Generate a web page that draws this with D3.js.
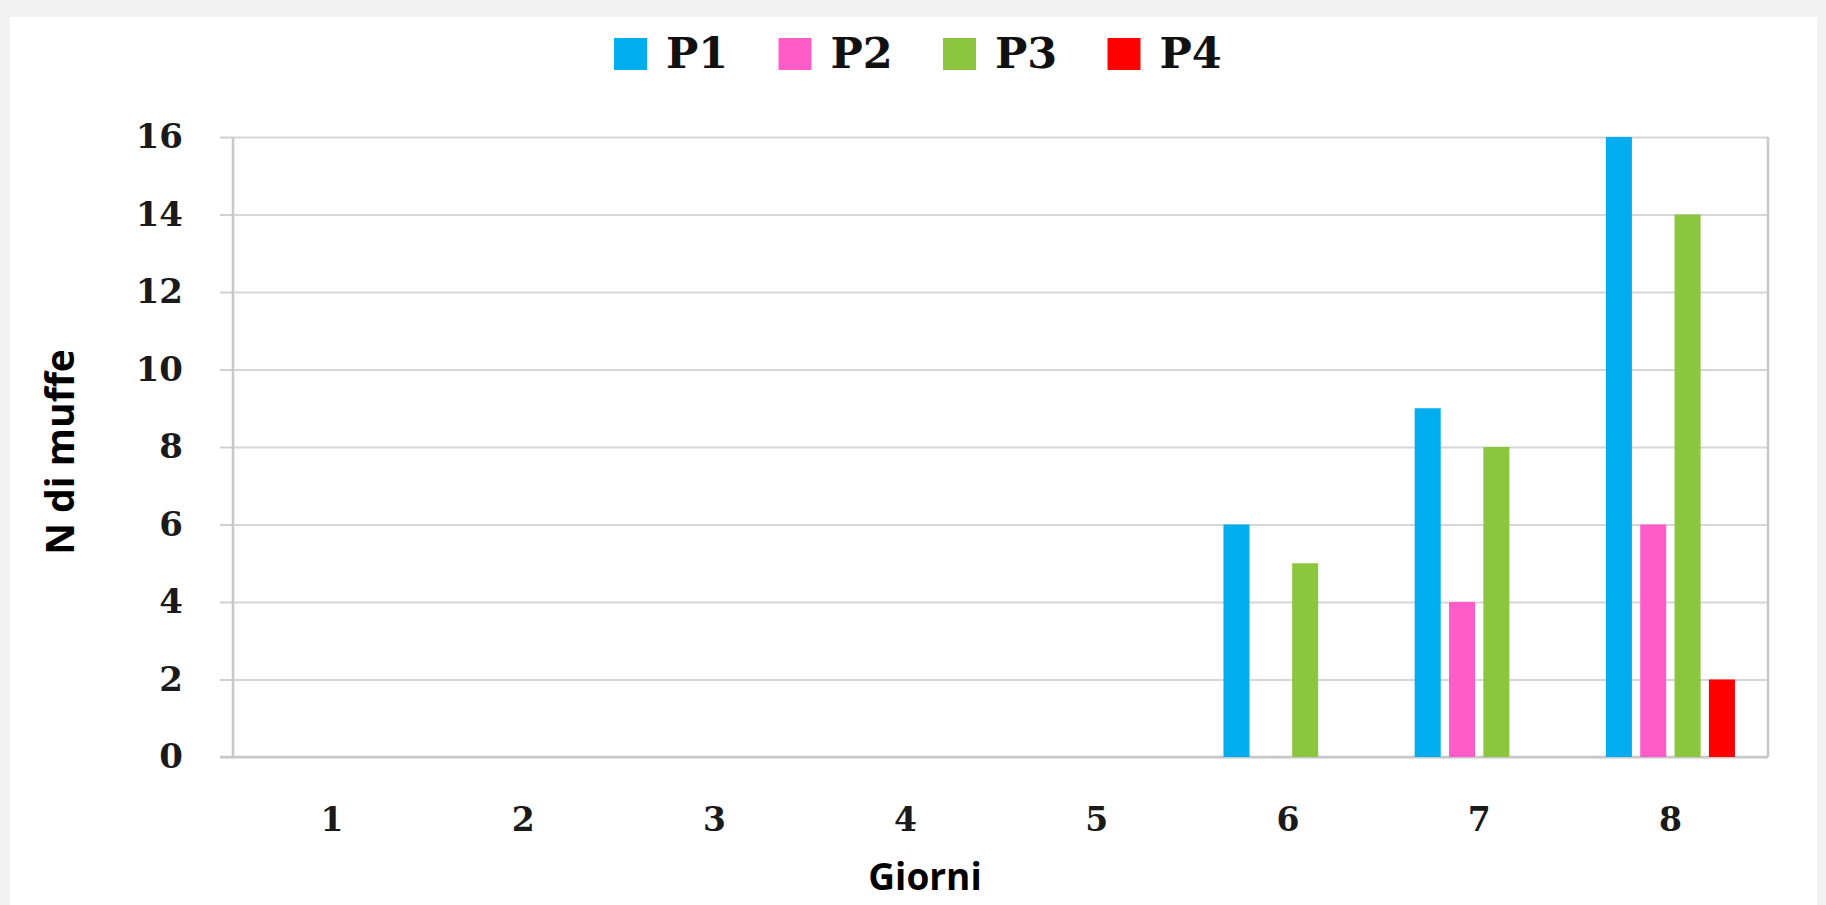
<!DOCTYPE html>
<html>
<head>
<meta charset="utf-8">
<script src="https://cdn.jsdelivr.net/npm/d3@7/dist/d3.min.js"></script>
<style>
  html, body { margin: 0; padding: 0; background: #f2f2f2; }
  svg { display: block; }
</style>
</head>
<body>
<svg id="chart" width="1826" height="905"></svg>
<script>
// ---- data ----
const days = ["1", "2", "3", "4", "5", "6", "7", "8"];
const seriesNames = ["P1", "P2", "P3", "P4"];
const seriesColors = ["#00aeef", "#ff5cc8", "#8cc63e", "#fe0000"];
const P1 = [0, 0, 0, 0, 0, 6, 9, 16];
const P2 = [0, 0, 0, 0, 0, 0, 4, 6];
const P3 = [0, 0, 0, 0, 0, 5, 8, 14];
const P4 = [0, 0, 0, 0, 0, 0, 0, 2];
const yTicks = [0, 2, 4, 6, 8, 10, 12, 14, 16];
const yTitle = "N di muffe";
const xTitle = "Giorni";

const seriesValues = [P1, P2, P3, P4];

// ---- layout ----
const svg = d3.select("#chart");
const W = 1826, H = 905;
const plot = { left: 233, right: 1768, top: 137, bottom: 757 };

// white panel
svg.append("rect").attr("x", 10).attr("y", 17).attr("width", 1807).attr("height", H - 17)
  .attr("fill", "#ffffff");

// scales
const x0 = d3.scaleBand().domain(days).range([236.4, 1766])
  .paddingInner(0.325).paddingOuter(0.1625);
const x1 = d3.scaleBand().domain(seriesNames).range([0, x0.bandwidth()])
  .paddingInner(0.242).paddingOuter(0);
const y = d3.scaleLinear().domain([0, 16]).range([plot.bottom, plot.top]);

// gridlines
const grid = svg.append("g").attr("transform", `translate(${plot.left},0)`)
  .call(d3.axisLeft(y).tickValues(yTicks).tickSize(-(plot.right - plot.left)).tickFormat(""));
grid.select(".domain").remove();
grid.selectAll("line").attr("stroke", "#d6d6d6").attr("stroke-width", 2);

// y axis with small outer ticks + labels
const yAxis = svg.append("g").attr("transform", `translate(${plot.left},0)`)
  .call(d3.axisLeft(y).tickValues(yTicks).tickSize(13).tickPadding(37).tickFormat(d3.format("d")));
yAxis.select(".domain").remove();
yAxis.selectAll("line").attr("stroke", "#d0d0d0").attr("stroke-width", 2);
yAxis.selectAll("text")
  .attr("font-family", "'DejaVu Serif', serif")
  .attr("font-weight", "bold")
  .attr("font-size", 34)
  .attr("fill", "#1a1a1a");

// frame lines (left, right, bottom)
svg.append("line").attr("x1", plot.left).attr("x2", plot.left).attr("y1", plot.top).attr("y2", plot.bottom)
  .attr("stroke", "#c8c8c8").attr("stroke-width", 2.5);
svg.append("line").attr("x1", plot.right).attr("x2", plot.right).attr("y1", plot.top).attr("y2", plot.bottom)
  .attr("stroke", "#c8c8c8").attr("stroke-width", 2.5);
svg.append("line").attr("x1", plot.left - 13).attr("x2", plot.right).attr("y1", plot.bottom).attr("y2", plot.bottom)
  .attr("stroke", "#c8c8c8").attr("stroke-width", 2.5);

// bars
const groups = svg.append("g").selectAll("g")
  .data(days)
  .join("g")
  .attr("transform", d => `translate(${x0(d)},0)`);

groups.selectAll("rect")
  .data((d, i) => seriesNames.map((s, k) => ({ s, k, v: seriesValues[k][i] })))
  .join("rect")
  .attr("x", d => x1(d.s))
  .attr("width", x1.bandwidth())
  .attr("y", d => y(d.v))
  .attr("height", d => y(0) - y(d.v))
  .attr("fill", d => seriesColors[d.k]);

// x axis labels
const xAxis = svg.append("g").attr("transform", `translate(0,${plot.bottom})`)
  .call(d3.axisBottom(x0).tickSize(0).tickPadding(51));
xAxis.select(".domain").remove();
xAxis.selectAll("text")
  .attr("font-family", "'DejaVu Serif', serif")
  .attr("font-weight", "bold")
  .attr("font-size", 33)
  .attr("fill", "#1a1a1a");

// axis titles
svg.append("text")
  .attr("transform", "translate(74,452) rotate(-90)")
  .attr("text-anchor", "middle")
  .attr("font-family", "'Open Sans', sans-serif")
  .attr("font-weight", "bold")
  .attr("font-size", 39)
  .attr("fill", "#000")
  .text(yTitle);

svg.append("text")
  .attr("x", 925).attr("y", 890)
  .attr("text-anchor", "middle")
  .attr("font-family", "'Open Sans', sans-serif")
  .attr("font-weight", "bold")
  .attr("font-size", 37)
  .attr("fill", "#000")
  .text(xTitle);

// legend
const legendX = d3.scalePoint().domain(seriesNames).range([614, 614 + 3 * 164.5]);
const leg = svg.append("g").selectAll("g")
  .data(seriesNames)
  .join("g")
  .attr("transform", d => `translate(${legendX(d)},0)`);
leg.append("rect")
  .attr("x", 0).attr("y", 38).attr("width", 33).attr("height", 32)
  .attr("fill", (d, i) => seriesColors[i]);
leg.append("text")
  .attr("x", 52).attr("y", 68)
  .attr("font-family", "'DejaVu Serif', serif")
  .attr("font-weight", "bold")
  .attr("font-size", 43)
  .attr("fill", "#111")
  .text(d => d);
</script>
</body>
</html>
